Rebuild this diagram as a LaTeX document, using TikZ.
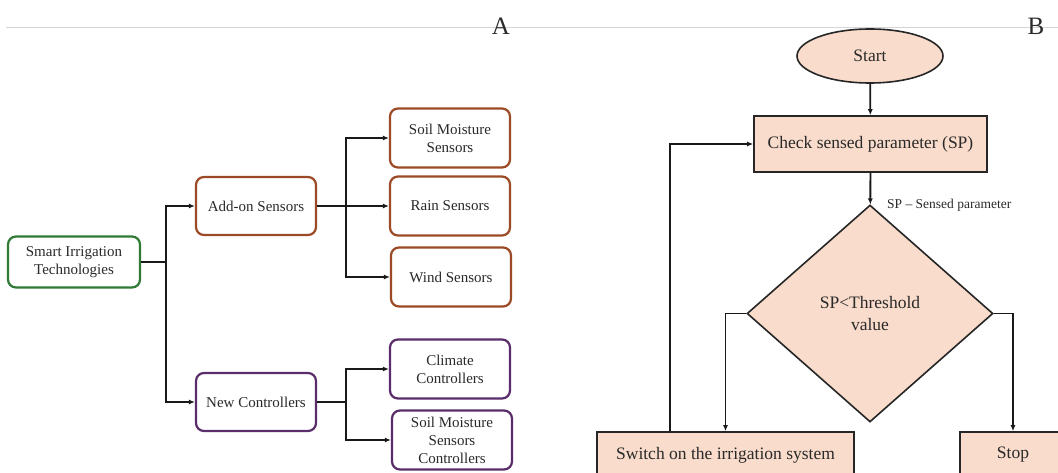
\documentclass[tikz,border=0pt]{standalone}
\usepackage{fontspec}
\setmainfont{Liberation Serif}
\usetikzlibrary{shapes.geometric,arrows.meta,calc}
\definecolor{peach}{HTML}{F9DCCB}
\definecolor{sensorc}{HTML}{9C4A25}
\definecolor{ctrlc}{HTML}{5A2D6A}
\definecolor{rootc}{HTML}{2F7A35}
\definecolor{rulec}{HTML}{D5D5D5}
\definecolor{txt}{HTML}{2A2A2A}
\begin{document}
\begin{tikzpicture}[x=1pt,y=-1pt,
  leftbox/.style={draw, rounded corners=8pt, line width=2.2pt, fill=white, align=center,
    text=txt, font=\fontsize{15}{18}\selectfont, minimum width=120pt, minimum height=59pt, inner sep=2pt},
  flow/.style={draw=black!85, line width=1.6pt, fill=peach, align=center, text=txt,
    font=\fontsize{17.5}{22}\selectfont, inner sep=0pt},
  conn/.style={line width=1.8pt, draw=black!90, -{Latex[length=6pt,width=5pt]}},
  plain/.style={line width=1.8pt, draw=black!90},
  panel/.style={font=\fontsize{25}{28}\selectfont, text=txt, inner sep=0pt}
]
\useasboundingbox (0,0) rectangle (1058,473);
\clip (0,0) rectangle (1058,473);
\fill[white] (0,0) rectangle (1058,473);

% rule and panel letters
\coordinate (rl) at (6,27.5);
\coordinate (rr) at (1058,27.5);
\draw[rulec, line width=1.2pt] (rl) -- (rr);
\node[panel] (pa) at (501,26) {A};
\node[panel] (pb) at (1036,26) {B};

% ---------- Panel A ----------
\node[leftbox, draw=rootc, minimum width=132pt, minimum height=51pt] (root) at (74,262) {Smart Irrigation\\Technologies};
\node[leftbox, draw=sensorc, minimum height=58pt] (addon) at (256,206) {Add-on Sensors};
\node[leftbox, draw=ctrlc, minimum height=58pt] (newc) at (256,402) {New Controllers};
\node[leftbox, draw=sensorc] (soil) at (450,138) {Soil Moisture\\Sensors};
\node[leftbox, draw=sensorc] (rain) at (450,206) {Rain Sensors};
\node[leftbox, draw=sensorc] (wind) at (451,277) {Wind Sensors};
\node[leftbox, draw=ctrlc] (clim) at (450,369) {Climate\\Controllers};
\node[leftbox, draw=ctrlc] (smsc) at (452,440) {Soil Moisture\\Sensors\\Controllers};

\coordinate (j1) at (166,262);
\coordinate (j2) at (346,206);
\coordinate (j3) at (346,402);
\draw[plain] (root.east) -- (j1);
\draw[conn] (j1) |- (addon.west);
\draw[conn] (j1) |- (newc.west);
\draw[plain] (addon.east) -- (j2);
\draw[conn] (j2) |- (soil.west);
\draw[conn] (j2) -- (rain.west);
\draw[conn] (j2) |- (wind.west);
\draw[plain] (newc.east) -- (j3);
\draw[conn] (j3) |- (clim.west);
\draw[conn] (j3) |- (smsc.west);

% ---------- Panel B ----------
\node[flow, ellipse, minimum width=146pt, minimum height=54pt] (start) at (870,56) {Start};
\node[flow, rectangle, minimum width=233pt, minimum height=56pt] (check) at (870.5,144) {Check sensed parameter (SP)};
\node[flow, diamond, minimum width=246pt, minimum height=217pt] (dec) at (870,313.5) {SP<Threshold\\value};
\node[flow, rectangle, minimum width=257pt, minimum height=46pt] (switch) at (725.5,455) {Switch on the irrigation system};
\node[flow, rectangle, minimum width=106pt, minimum height=46pt] (stop) at (1013,455) {Stop};
\node[anchor=west, inner sep=0pt, text=txt, font=\fontsize{13.5}{16}\selectfont] (splabel) at (887,205) {SP -- Sensed parameter};

\draw[conn] (start) -- (check);
\draw[conn] (check) -- (dec);
\draw[conn] (dec.west) -| (switch.north);
\draw[conn] (dec.east) -| (stop.north);
\draw[conn] ([xshift=-55.5pt]switch.north) |- (check.west);
\end{tikzpicture}
\end{document}
